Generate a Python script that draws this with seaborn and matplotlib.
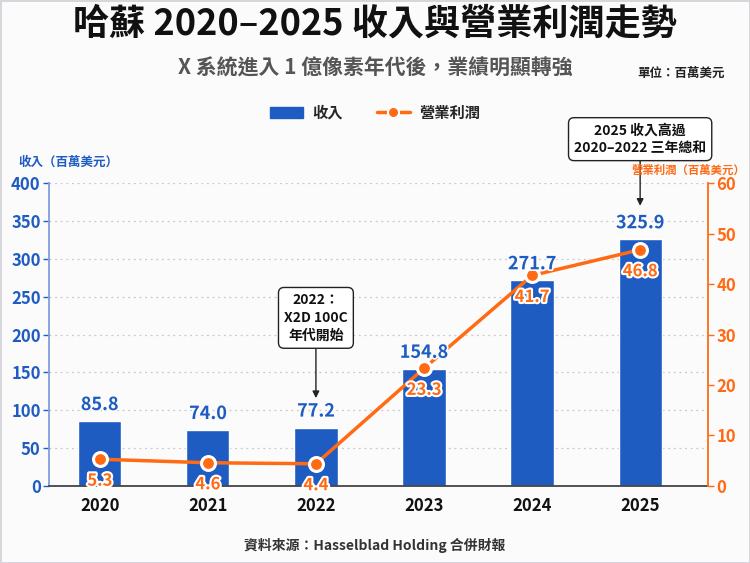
import numpy as np
import pandas as pd
import matplotlib
matplotlib.use("Agg")
import matplotlib.pyplot as plt
import seaborn as sns
from matplotlib.patches import Patch
from matplotlib.lines import Line2D
import matplotlib.patheffects as pe

years = ["2020", "2021", "2022", "2023", "2024", "2025"]
revenue = [85.8, 74.0, 77.2, 154.8, 271.7, 325.9]
op_profit = [5.3, 4.6, 4.4, 23.3, 41.7, 46.8]
left_ticks = [0, 50, 100, 150, 200, 250, 300, 350, 400]
right_ticks = [0, 10, 20, 30, 40, 50, 60]

BLUE = "#1f5cc2"
ORANGE = "#ff6a13"

sns.set_theme(style="white")
plt.rcParams["font.family"] = ["Noto Sans CJK TC", "DejaVu Sans"]

fig = plt.figure(figsize=(7.5, 5.63), dpi=100)
fig.patch.set_facecolor("#fbfbfc")
fig.patch.set_edgecolor("#d6d6dc")
fig.patch.set_linewidth(2)

ax = fig.add_axes([0.0653, 0.1368, 0.879, 0.538])
ax.set_facecolor("#fbfbfc")
df = pd.DataFrame({"year": years, "revenue": revenue, "profit": op_profit})
sns.barplot(data=df, x="year", y="revenue", color=BLUE, width=0.4,
            saturation=1, ax=ax, zorder=2)
ax.set_xlim(-0.47, 5.63)
ax.set_ylim(0, 400)
ax.set_yticks(left_ticks)
ax.yaxis.grid(True, linestyle=(0, (1.5, 3)), color="#c8c8cc", linewidth=0.9, zorder=0)
ax.set_axisbelow(True)
ax.set_xlabel("")
ax.set_ylabel("")
ax.tick_params(axis="y", colors=BLUE, labelsize=12, length=4, width=1, left=True, pad=2)
for t in ax.get_yticklabels():
    t.set_fontweight("bold")
    t.set_color(BLUE)
ax.tick_params(axis="x", colors="#111111", labelsize=12, length=0, pad=8)
for t in ax.get_xticklabels():
    t.set_fontweight("bold")
for s in ["top", "right"]:
    ax.spines[s].set_visible(False)
ax.spines["left"].set_color("#7f9de0")
ax.spines["left"].set_linewidth(1.3)
ax.spines["bottom"].set_color("#444444")
ax.spines["bottom"].set_linewidth(1.3)

ax2 = ax.twinx()
sns.lineplot(x=np.arange(len(years)), y=op_profit, ax=ax2, color=ORANGE, linewidth=2.5,
             marker="o", markersize=10, markerfacecolor=ORANGE, markeredgecolor="white",
             markeredgewidth=2.2, zorder=5)
ax2.set_ylim(0, 60)
ax2.set_yticks(right_ticks)
ax2.set_xlim(-0.47, 5.63)
ax2.set_ylabel("")
ax2.tick_params(axis="y", colors=ORANGE, labelsize=12, length=4, width=1, right=True, pad=2)
for t in ax2.get_yticklabels():
    t.set_fontweight("bold")
    t.set_color(ORANGE)
for s in ["top", "left", "bottom"]:
    ax2.spines[s].set_visible(False)
ax2.spines["right"].set_color(ORANGE)
ax2.spines["right"].set_linewidth(1.3)

# bar value labels drawn on top of the line layer
for i, v in enumerate(revenue):
    ax2.annotate(f"{v:.1f}", xy=(i, v), xycoords=ax.transData, xytext=(0, 5),
                 textcoords="offset points", ha="center", va="bottom", color=BLUE,
                 fontsize=13, fontweight="bold", zorder=8,
                 path_effects=[pe.withStroke(linewidth=2.5, foreground="#fbfbfc")])

for i, v in enumerate(op_profit):
    ax2.annotate(f"{v:.1f}", xy=(i, v), xytext=(0, -9), textcoords="offset points",
                 ha="center", va="top", color=ORANGE, fontsize=12, fontweight="bold",
                 path_effects=[pe.withStroke(linewidth=3, foreground="white")], zorder=6)

box = dict(boxstyle="round,pad=0.4,rounding_size=0.4", fc="white", ec="#222222", lw=1)
arrow = dict(arrowstyle="-|>", color="#222222", lw=1, shrinkA=0, shrinkB=0, mutation_scale=10)
ax.annotate("2022：\nX2D 100C\n年代開始", xy=(2, 116), xytext=(2, 222),
            ha="center", va="center", fontsize=10, fontweight="bold", color="#111111",
            bbox=box, arrowprops=arrow, annotation_clip=False, zorder=7, linespacing=1.35)
ax.annotate("2025 收入高過\n2020–2022 三年總和", xy=(5, 370), xytext=(5, 458),
            ha="center", va="center", fontsize=10, fontweight="bold", color="#111111",
            bbox=box, arrowprops=arrow, annotation_clip=False, zorder=7, linespacing=1.35)

fig.text(0.5, 0.958, "哈蘇 2020–2025 收入與營業利潤走勢", ha="center", va="center",
         fontsize=26, fontweight="heavy", color="#111111")
fig.text(0.5, 0.879, "X 系統進入 1 億像素年代後，業績明顯轉強", ha="center", va="center",
         fontsize=15, fontweight="bold", color="#555555")
fig.text(0.967, 0.869, "單位：百萬美元", ha="right", va="center",
         fontsize=9, fontweight="bold", color="#222222")
fig.text(0.024, 0.711, "收入（百萬美元）", ha="left", va="center",
         fontsize=9, fontweight="bold", color=BLUE)
fig.text(0.994, 0.698, "營業利潤（百萬美元）", ha="right", va="center",
         fontsize=8.2, fontweight="bold", color=ORANGE)
fig.text(0.5, 0.032, "資料來源：Hasselblad Holding 合併財報", ha="center", va="center",
         fontsize=10, fontweight="bold", color="#333333")

handles = [Patch(facecolor=BLUE, edgecolor=BLUE),
           Line2D([0], [0], color=ORANGE, lw=2.5, marker="o", markersize=8,
                  markerfacecolor=ORANGE, markeredgecolor="white", markeredgewidth=1.5)]
leg = fig.legend(handles, ["收入", "營業利潤"], loc="center", bbox_to_anchor=(0.5, 0.80),
                 ncol=2, frameon=False, prop={"size": 11, "weight": "bold"},
                 handlelength=2.2, columnspacing=2.2, handletextpad=0.6)

fig.savefig("out.png", dpi=100, facecolor=fig.get_facecolor(), edgecolor=fig.get_edgecolor())
